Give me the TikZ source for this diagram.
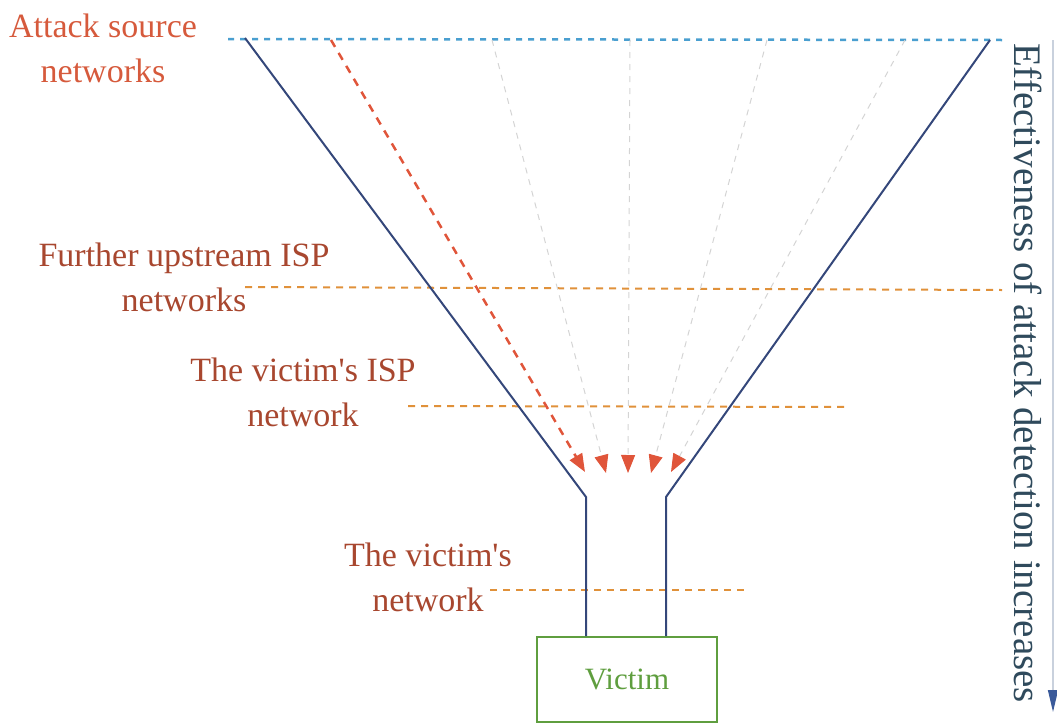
\documentclass[tikz,border=0pt]{standalone}
\usepackage{fontspec}
\setmainfont{Liberation Serif}
% a family without TeX ligatures, so the apostrophe stays straight
\newfontfamily\labelfont{Liberation Serif}
\usetikzlibrary{arrows.meta}

\definecolor{funnelblue}{HTML}{34477A}
\definecolor{skyblue}{HTML}{4A9FD0}
\definecolor{levelorange}{HTML}{E0913A}
\definecolor{attackred}{HTML}{E0553A}
\definecolor{flowgray}{HTML}{D4D4D4}
\definecolor{sourcered}{HTML}{D65A3C}
\definecolor{labelbrown}{HTML}{A8472F}
\definecolor{axisslate}{HTML}{2F4A5C}
\definecolor{victimgreen}{HTML}{5F9E3F}
\definecolor{axisline}{HTML}{C9D1DD}
\definecolor{axistip}{HTML}{3A5A9A}

\tikzset{
  funnel/.style={draw=funnelblue, line width=2pt},
  topdash/.style={draw=skyblue, line width=2.5pt, dash pattern=on 6pt off 6pt},
  leveldash/.style={draw=levelorange, line width=2pt, dash pattern=on 7pt off 6pt},
  attackdash/.style={draw=attackred, line width=2.5pt, dash pattern=on 8pt off 7pt,
    -{Triangle[length=18pt,width=14pt,color=attackred]}},
  flowdash/.style={draw=flowgray, line width=1pt, dash pattern=on 6pt off 6pt,
    -{Triangle[length=18pt,width=14pt,color=attackred]}},
  lbl/.style={text=labelbrown, align=center, inner sep=0pt,
    font=\labelfont\fontsize{34}{45}\selectfont},
  victimbox/.style={draw=victimgreen, line width=2pt, minimum width=180pt,
    minimum height=85pt, inner sep=0pt, text=victimgreen,
    font=\labelfont\fontsize{31}{36}\selectfont},
}

\begin{document}
\begin{tikzpicture}[x=1pt, y=-1pt]
  \useasboundingbox (0,0) rectangle (1057,723);

  % labels of the network levels
  \node[lbl, text=sourcered] (src) at (103,48) {Attack source\\networks};
  \node[lbl] (up) at (184,277) {Further upstream ISP\\networks};
  \node[lbl] (isp) at (303,392) {The victim's ISP\\network};
  \node[lbl] (own) at (428,577) {The victim's\\network};

  % the victim
  \node[victimbox] (victim) at (627,679.5) {Victim};

  % level boundaries
  \coordinate (topL) at (228,39);
  \coordinate (topR) at (1002,40);
  \draw[topdash] (topL) -- (topR);
  \coordinate (upL) at (245,287);
  \coordinate (upR) at (1002,290);
  \draw[leveldash] (upL) -- (upR);
  \coordinate (ispL) at (408,406);
  \coordinate (ispR) at (848,407);
  \draw[leveldash] (ispL) -- (ispR);
  \coordinate (ownL) at (490,590);
  \coordinate (ownR) at (750,590);
  \draw[leveldash] (ownL) -- (ownR);

  % funnel walls
  \coordinate (lt) at (245,38);
  \coordinate (lb) at (586,497);
  \coordinate (rt) at (990,40);
  \coordinate (rb) at (666,497);
  \draw[funnel] (lt) -- (lb) -- (lb |- victim.north);
  \draw[funnel] (rt) -- (rb) -- (rb |- victim.north);

  % attack flows converging on the victim
  \coordinate (a0) at (331,40);
  \coordinate (a1) at (492,40);
  \coordinate (a2) at (630,40);
  \coordinate (a3) at (767,40);
  \coordinate (a4) at (905,40);
  \coordinate (t0) at (585,472);
  \coordinate (t1) at (606,473);
  \coordinate (t2) at (628,473);
  \coordinate (t3) at (651,473);
  \coordinate (t4) at (671,472);
  \draw[flowdash] (a1) -- (t1);
  \draw[flowdash] (a2) -- (t2);
  \draw[flowdash] (a3) -- (t3);
  \draw[flowdash] (a4) -- (t4);
  \draw[attackdash] (a0) -- (t0);

  % effectiveness axis
  \node[text=axisslate, inner sep=0pt, rotate=-90,
    font=\labelfont\fontsize{39}{41}\selectfont] (axis) at (1028,373)
    {Effectiveness of attack detection increases};
  \coordinate (axTop) at (1053,40);
  \coordinate (axEnd) at (1053,712);
  \draw[draw=axisline, line width=1.5pt,
    -{Triangle[length=22pt,width=10pt,color=axistip]}] (axTop) -- (axEnd);
\end{tikzpicture}
\end{document}
